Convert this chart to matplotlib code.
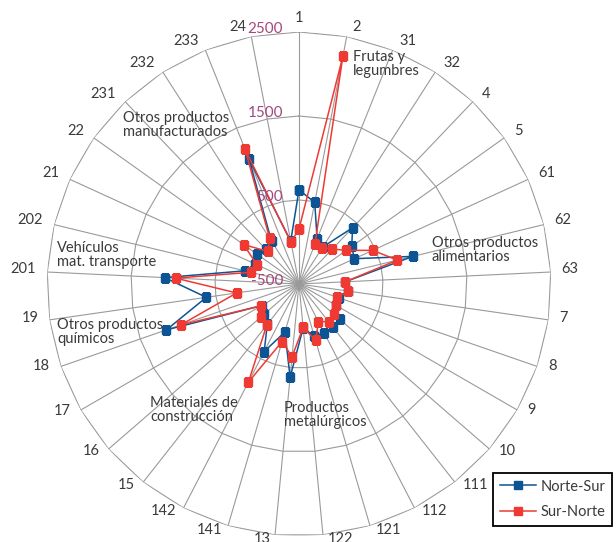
import numpy as np
import matplotlib.pyplot as plt
from matplotlib.transforms import offset_copy

# categories clockwise from the top
categories = ['1', '2', '31', '32', '4', '5', '61', '62', '63', '7', '8', '9', '10',
              '111', '112', '121', '122', '13', '141', '142', '15', '16', '17', '18',
              '19', '201', '202', '21', '22', '231', '232', '233', '24']

norte_sur = [620, 490, 80, 25, 425, 270, 225, 895, 50, 85, 0, 10, 140,
             155, 150, 150, 25, 615, 95, 405, 110, 45, 15, 1170,
             615, 1100, 165, 70, 120, 75, 105, 1100, 20]

sur_norte = [155, 2260, 10, 15, 75, 190, 465, 705, 50, 90, -15, 5, 50,
             70, 5, 200, 20, 370, 215, 815, 120, 95, 20, 990,
             250, 970, 90, 50, 310, 35, 145, 1225, 8]

r_ticks = [-500, 500, 1500, 2500]
series_names = ['Norte-Sur', 'Sur-Norte']

annotations = [
    ('Frutas y\nlegumbres', 353, 50),
    ('Otros productos\nmanufacturados', 123, 111),
    ('Otros productos\nalimentarios', 432, 236),
    ('Vehículos\nmat. transporte', 57, 241),
    ('Otros productos\nquímicos', 57, 318),
    ('Materiales de\nconstrucción', 150, 396),
    ('Productos\nmetalúrgicos', 284, 401),
]

blue = '#0c5493'
red = '#ee3a33'
purple = '#a3487e'
grid_col = '#9a9a9a'
txt_col = '#3a3a3a'

plt.rcParams['font.family'] = ['Lato', 'DejaVu Sans']

W, H = 616, 542
fig = plt.figure(figsize=(W / 100, H / 100), dpi=100)
ax = fig.add_axes([47 / W, 6 / H, 504 / W, 504 / H], projection='polar')
ax.set_theta_zero_location('N')
ax.set_theta_direction(-1)
ax.set_ylim(-500, 2500)
ax.spines['polar'].set_visible(False)
ax.set_xticks([])
ax.set_yticks([])
ax.grid(False)
ax.patch.set_alpha(0)

n = len(categories)
theta = np.linspace(0, 2 * np.pi, n, endpoint=False)
theta_c = np.append(theta, theta[0])

# spokes and polygon rings
for t in theta:
    ax.plot([t, t], [-500, 2500], color=grid_col, lw=0.8, zorder=1)
for v in r_ticks[1:]:
    ax.plot(theta_c, [v] * (n + 1), color=grid_col, lw=0.8, zorder=1)

# data series
ns = np.append(norte_sur, norte_sur[0])
sn = np.append(sur_norte, sur_norte[0])
h1, = ax.plot(theta_c, ns, color=blue, lw=1.1, marker='s', markersize=6,
              label=series_names[0], zorder=3)
h2, = ax.plot(theta_c, sn, color=red, lw=1.1, marker='s', markersize=6,
              label=series_names[1], zorder=4)

# category labels just outside the outer ring, left/right aligned by side
for t, lab in zip(theta, categories):
    s, c = np.sin(t), np.cos(t)
    if abs(s) < 1e-6:
        ha, dx, dy = 'center', 0, 14
    else:
        ha = 'left' if s > 0 else 'right'
        dx, dy = 7 * s + 4 * np.sign(s), 7 * c + 3
    ax.text(t, 2500, lab, ha=ha, va='center', fontsize=10.5, color=txt_col,
            transform=offset_copy(ax.transData, fig=fig, x=dx, y=dy, units='dots'))

# radial tick labels
trans = offset_copy(ax.transData, fig=fig, x=-16, y=3, units='dots')
for v in r_ticks:
    ax.text(0, v, str(v), transform=trans, ha='right', va='center',
            fontsize=11, color=purple, zorder=5)

for s, x, y in annotations:
    fig.text(x / W, 1 - y / H, s, ha='left', va='top', fontsize=10.5,
             color=txt_col, linespacing=1.0)

leg = fig.legend(handles=[h1, h2], loc='upper left',
                 bbox_to_anchor=(493 / W, 1 - 473 / H), frameon=True,
                 fancybox=False, edgecolor='black', framealpha=1,
                 fontsize=10.5, handlelength=2.5, handletextpad=0.3,
                 borderpad=0.45, labelspacing=0.8, borderaxespad=0)
leg.get_frame().set_linewidth(1.3)
for txt in leg.get_texts():
    txt.set_color(txt_col)

fig.savefig('out.png', dpi=100)
